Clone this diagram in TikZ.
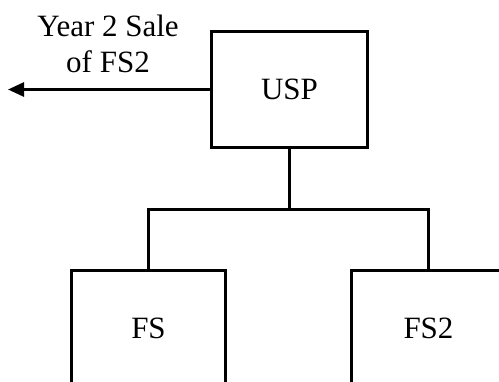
\documentclass[tikz,border=0pt]{standalone}
\usepackage{fontspec}
\setmainfont{Liberation Serif}
\usetikzlibrary{arrows.meta}
\begin{document}
\begin{tikzpicture}[x=1pt,y=-1pt,
  every node/.style={font=\fontsize{31}{36}\selectfont},
  entity/.style={draw=black,line width=2.8pt,minimum width=156pt,minimum height=116pt,inner sep=0pt},
  conn/.style={line width=2.8pt}]
\useasboundingbox (0,0) rectangle (499,381);
\clip (0,0) rectangle (499,381);
\node[entity] (usp) at (289.5,89.5) {USP};
\node[entity,minimum width=154pt] (fs) at (148.5,328.5) {FS};
\node[entity,minimum width=154pt] (fs2) at (428.5,328.5) {FS2};
\coordinate (busL) at (148.5,209.5);
\coordinate (busR) at (428.5,209.5);
\coordinate (tip) at (8,89.5);
\draw[conn] (fs.north) -- (busL) -- (busR) -- (fs2.north);
\draw[conn] (usp.south) -- (usp.south |- busL);
\draw[conn,-{Triangle[length=16pt,width=14pt]}] (usp.west) -- (tip);
\node[align=center,inner sep=0pt] (lbl) at (108,44) {Year 2 Sale\\of FS2};
\end{tikzpicture}
\end{document}
